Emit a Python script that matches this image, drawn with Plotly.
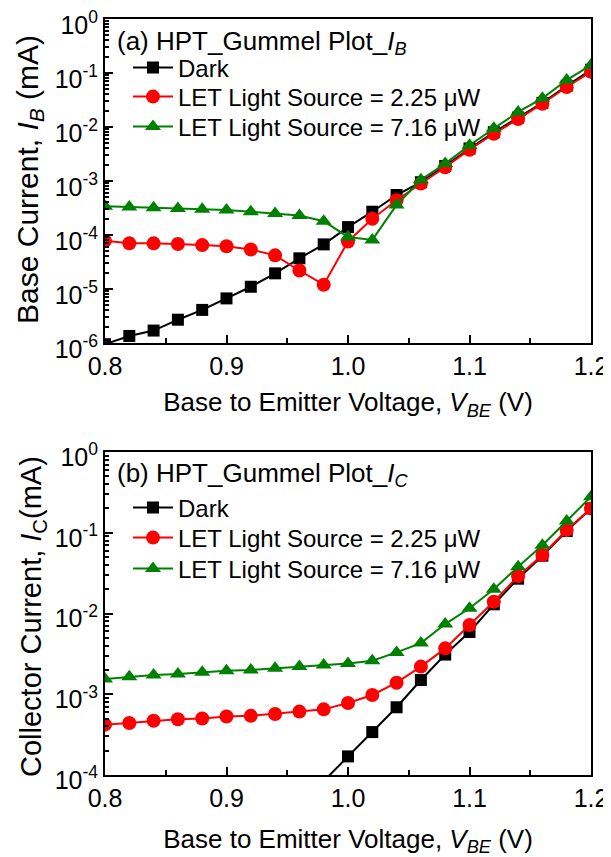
import plotly.graph_objects as go

# ---------------- data ----------------
vbe = [0.80, 0.82, 0.84, 0.86, 0.88, 0.90, 0.92, 0.94, 0.96, 0.98, 1.00,
       1.02, 1.04, 1.06, 1.08, 1.10, 1.12, 1.14, 1.16, 1.18, 1.20]

# (a) base current IB (mA)
ib_dark = [9.5e-7, 1.35e-6, 1.7e-6, 2.7e-6, 4.1e-6, 6.7e-6, 1.1e-5, 1.95e-5, 3.7e-5, 6.7e-5, 1.4e-4,
           2.7e-4, 5.5e-4, 9.5e-4, 1.9e-3, 4.0e-3, 8.0e-3, 1.5e-2, 2.8e-2, 5.8e-2, 1.15e-1]
ib_225 = [7.8e-5, 7.0e-5, 7.0e-5, 6.8e-5, 6.5e-5, 6.2e-5, 5.4e-5, 4.2e-5, 2.2e-5, 1.2e-5, 7.6e-5,
          2.0e-4, 4.4e-4, 9.0e-4, 1.8e-3, 3.8e-3, 7.5e-3, 1.4e-2, 2.7e-2, 5.5e-2, 1.05e-1]
ib_716 = [3.4e-4, 3.3e-4, 3.2e-4, 3.1e-4, 3.0e-4, 2.9e-4, 2.7e-4, 2.5e-4, 2.3e-4, 1.8e-4, 9.2e-5,
          8.1e-5, 3.6e-4, 1.05e-3, 2.1e-3, 4.6e-3, 9.5e-3, 1.9e-2, 3.4e-2, 7.4e-2, 1.4e-1]

# (b) collector current IC (mA)
vbe_dark_c = [0.98, 1.00, 1.02, 1.04, 1.06, 1.08, 1.10, 1.12, 1.14, 1.16, 1.18, 1.20]
ic_dark = [8.4e-5, 1.7e-4, 3.4e-4, 6.9e-4, 1.5e-3, 3.1e-3, 5.9e-3, 1.3e-2, 2.7e-2, 5.2e-2, 1.05e-1, 2.0e-1]
ic_225 = [4.2e-4, 4.4e-4, 4.7e-4, 4.9e-4, 5.0e-4, 5.3e-4, 5.4e-4, 5.7e-4, 6.1e-4, 6.5e-4, 7.8e-4,
          9.8e-4, 1.39e-3, 2.2e-3, 3.7e-3, 7.2e-3, 1.4e-2, 2.9e-2, 5.3e-2, 1.08e-1, 2.0e-1]
ic_716 = [1.55e-3, 1.65e-3, 1.73e-3, 1.78e-3, 1.87e-3, 1.95e-3, 2.0e-3, 2.1e-3, 2.2e-3, 2.3e-3, 2.4e-3,
          2.6e-3, 3.3e-3, 4.3e-3, 7.4e-3, 1.16e-2, 2.0e-2, 3.8e-2, 7.0e-2, 1.4e-1, 2.8e-1]

names = ["Dark", "LET Light Source = 2.25 \u03bcW", "LET Light Source = 7.16 \u03bcW"]
colors = ["#000000", "#ff0000", "#008000"]
symbols = ["square", "circle", "triangle-up"]
sizes = [12, 14, 14]

xticks = [0.8, 0.9, 1.0, 1.1, 1.2]
xticktext = ["0.8", "0.9", "1.0", "1.1", "1.2"]
yticks_a = [1e-6, 1e-5, 1e-4, 1e-3, 1e-2, 1e-1, 1]
yticktext_a = ["10<sup>-6</sup>", "10<sup>-5</sup>", "10<sup>-4</sup>", "10<sup>-3</sup>",
               "10<sup>-2</sup>", "10<sup>-1</sup>", "10<sup>0</sup>"]
yticks_b = [1e-4, 1e-3, 1e-2, 1e-1, 1]
yticktext_b = ["10<sup>-4</sup>", "10<sup>-3</sup>", "10<sup>-2</sup>", "10<sup>-1</sup>", "10<sup>0</sup>"]

FONT = "Liberation Sans, Arial, sans-serif"
# page has an 8px body margin: figure pixel = page pixel - 8
OFF = 8
W, H = 611 - OFF, 857 - OFF

def px(p):
    return (p - OFF) / W

def py(p):
    return (H - (p - OFF)) / H

fig = go.Figure()

top_sets = [(vbe, ib_dark), (vbe, ib_225), (vbe, ib_716)]
bot_sets = [(vbe_dark_c, ic_dark), (vbe, ic_225), (vbe, ic_716)]

for i, (xs, ys) in enumerate(top_sets):
    fig.add_trace(go.Scatter(x=xs, y=ys, mode="lines+markers", name=names[i],
                             line=dict(color=colors[i], width=2),
                             marker=dict(symbol=symbols[i], size=sizes[i], color=colors[i]),
                             xaxis="x", yaxis="y", legend="legend" if i == 0 else f"legend{i + 1}"))
for i, (xs, ys) in enumerate(bot_sets):
    fig.add_trace(go.Scatter(x=xs, y=ys, mode="lines+markers", name=names[i],
                             line=dict(color=colors[i], width=2),
                             marker=dict(symbol=symbols[i], size=sizes[i], color=colors[i]),
                             xaxis="x2", yaxis="y2", legend=f"legend{i + 4}"))

xdom = [px(105), px(591)]
ydom_a = [py(343), py(19)]
ydom_b = [py(775), py(452)]

def xaxis_cfg(dom, anchor, standoff):
    return dict(domain=dom, anchor=anchor, range=[0.8, 1.2], tickvals=xticks, ticktext=xticktext,
                automargin=False, ticklabeloverflow="allow",
                ticks="inside", ticklen=8, tickwidth=2, tickcolor="black",
                minor=dict(ticks="inside", ticklen=5, tickwidth=2, tickcolor="black", dtick=0.05),
                showline=True, linecolor="black", linewidth=2, mirror=True,
                showgrid=False, zeroline=False,
                tickfont=dict(family=FONT, size=25, color="black"),
                title=dict(text="Base to Emitter Voltage, <i>V<sub>BE</sub></i> (V)",
                           font=dict(family=FONT, size=26, color="black"), standoff=standoff))

def yaxis_cfg(dom, anchor, rng, tv, tt, shift):
    return dict(domain=dom, anchor=anchor, type="log", range=rng, tickvals=tv, ticktext=tt,
                automargin=False, ticklabeloverflow="allow", ticklabelshift=shift,
                ticks="inside", ticklen=8, tickwidth=2, tickcolor="black",
                minor=dict(ticks="inside", ticklen=4, tickwidth=1.5, tickcolor="black", dtick="D1"),
                showline=True, linecolor="black", linewidth=2, mirror=True,
                showgrid=False, zeroline=False,
                tickfont=dict(family=FONT, size=25, color="black"))

def leg(yc):
    return dict(x=px(128), y=py(yc), xanchor="left", yanchor="middle",
                bgcolor="rgba(0,0,0,0)", font=dict(family=FONT, size=24, color="black"),
                tracegroupgap=0, itemwidth=40)

def note(text, x, y, size, angle=0, xanchor="left"):
    return dict(text=text, x=px(x), y=py(y), xref="paper", yref="paper",
                xanchor=xanchor, yanchor="middle", showarrow=False, textangle=angle,
                font=dict(family=FONT, size=size, color="black"))

fig.update_layout(
    width=W, height=H,
    margin=dict(l=0, r=0, t=0, b=0),
    paper_bgcolor="white", plot_bgcolor="white",
    font=dict(family=FONT, color="black"),
    xaxis=xaxis_cfg(xdom, "y", 14),
    yaxis=yaxis_cfg(ydom_a, "x", [-6, 0], yticks_a, yticktext_a, 6),
    xaxis2=xaxis_cfg(xdom, "y2", 19),
    yaxis2=yaxis_cfg(ydom_b, "x2", [-4, 0], yticks_b, yticktext_b, 5),
    legend=leg(68), legend2=leg(97), legend3=leg(127),
    legend4=leg(508), legend5=leg(538), legend6=leg(569),
    annotations=[
        note("(a) HPT_Gummel Plot_<i>I<sub>B</sub></i>", 115, 43, 26),
        note("(b) HPT_Gummel Plot_<i>I<sub>C</sub></i>", 115, 474, 26),
        note("Base Current, <i>I<sub>B</sub></i> (mA)", 29, 180, 30, angle=-90, xanchor="center"),
        note("Collector Current, <i>I</i><sub>C</sub>(mA)", 33, 617, 29, angle=-90, xanchor="center"),
    ],
    showlegend=True,
)

fig.write_html("out.html")
